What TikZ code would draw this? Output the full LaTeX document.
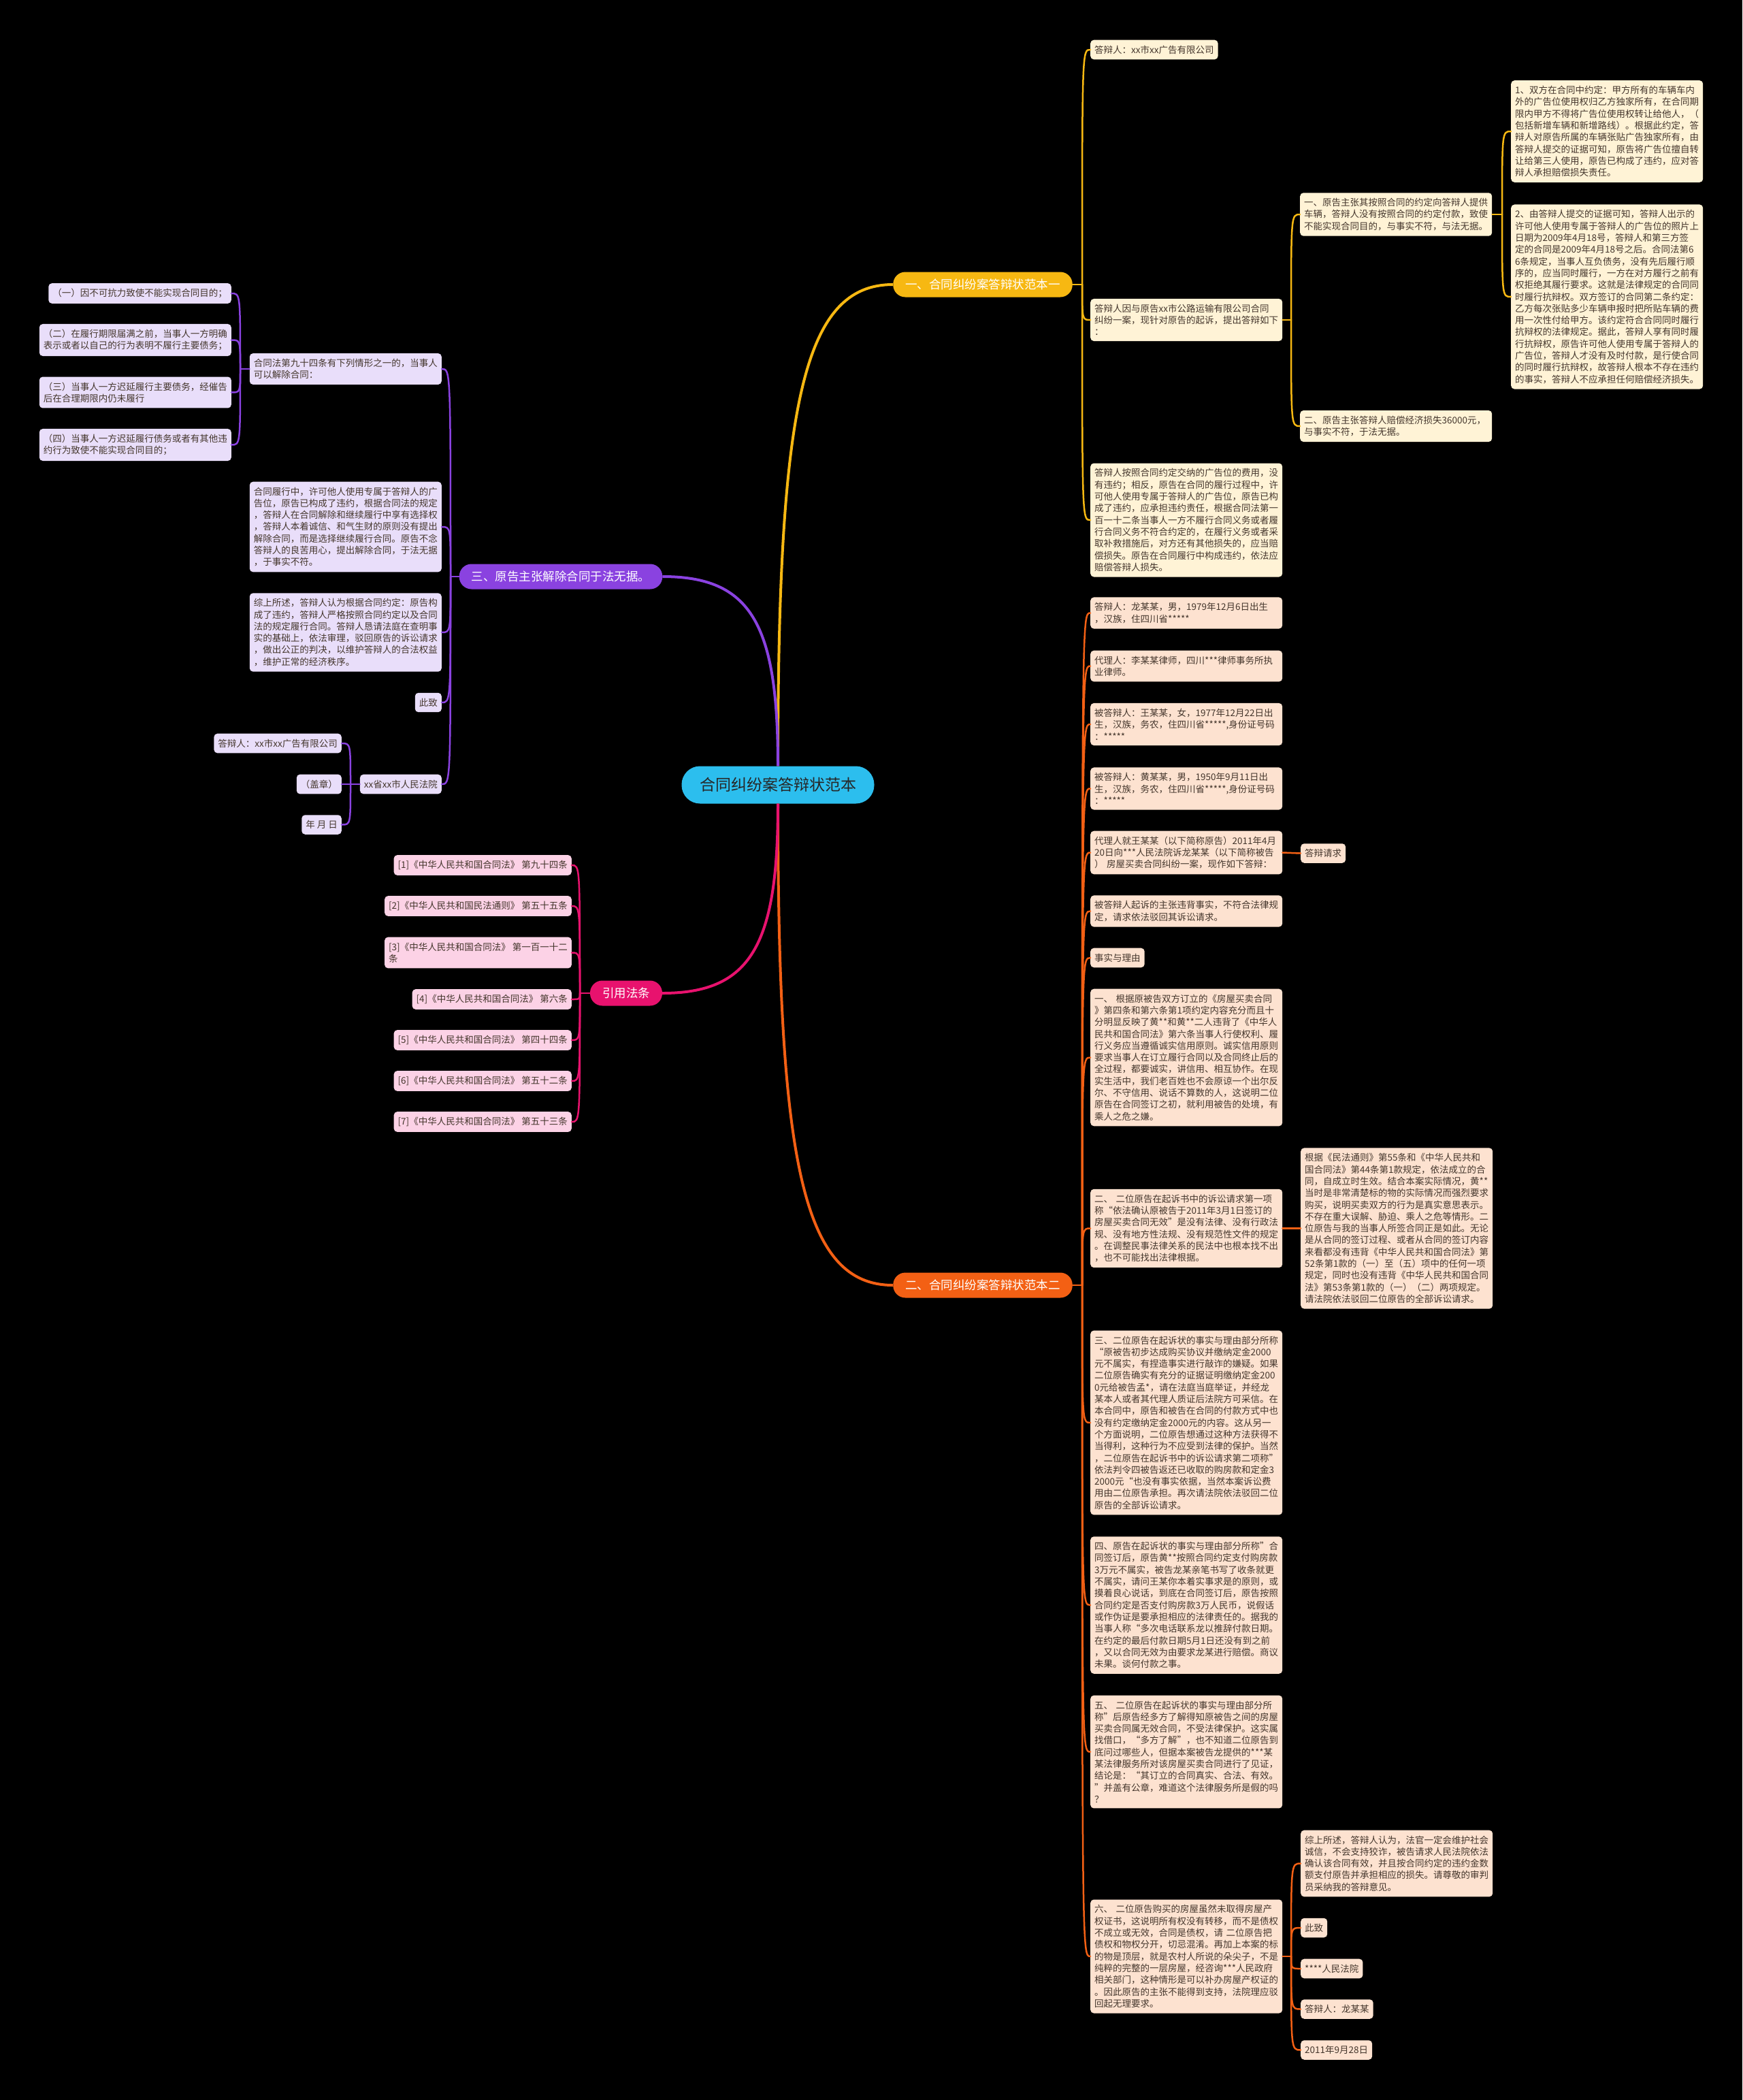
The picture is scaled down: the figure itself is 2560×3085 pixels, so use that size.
\documentclass[tikz,border=0pt]{standalone}
\usepackage{fontspec}
\setmainfont{Noto Sans CJK SC}

\definecolor{bgc}{RGB}{0,0,0}
\definecolor{ink}{RGB}{68,54,44}
\definecolor{rootc}{RGB}{44,190,238}
\definecolor{yel}{RGB}{247,184,18}
\definecolor{yelbox}{RGB}{255,243,214}
\definecolor{ora}{RGB}{243,96,20}
\definecolor{orabox}{RGB}{253,226,208}
\definecolor{pur}{RGB}{138,66,224}
\definecolor{purbox}{RGB}{233,222,250}
\definecolor{pnk}{RGB}{232,18,110}
\definecolor{pnkbox}{RGB}{252,210,230}

\newcommand*{\boxfont}{\fontsize{13.5}{17.3}\selectfont}

\begin{document}
\begin{tikzpicture}
[
	x=1pt,y=-1pt,
	root/.style={fill=rootc,rounded corners=27pt,minimum width=283pt,minimum height=55pt,font=\fontsize{23}{27}\selectfont,text=black!85},
	branch/.style={rounded corners=18pt,minimum height=37pt,inner xsep=18pt,font=\fontsize{17.5}{21}\selectfont,text=white},
	box/.style={rounded corners=5pt,inner xsep=6pt,inner ysep=8pt,font=\boxfont,text=ink,align=left},
	longbox/.style={text width=270pt},
	ybox/.style={box,fill=yelbox},
	obox/.style={box,fill=orabox},
	pbox/.style={box,fill=purbox},
	kbox/.style={box,fill=pnkbox},
	rootlink/.style={line width=4pt},
	link/.style={line width=2.5pt,line cap=round}
]

	% background
	\fill[bgc] (0,0) rectangle (2560,3085);

	% root and main branches
	\node[root] (root) at (1143,1153) {合同纠纷案答辩状范本};
	\node[branch,fill=yel] (b1) at (1444,418) {一、合同纠纷案答辩状范本一};
	\node[branch,fill=ora] (b2) at (1444,1888) {二、合同纠纷案答辩状范本二};
	\node[branch,fill=pur] (b3) at (824,847) {三、原告主张解除合同于法无据。};
	\node[branch,fill=pnk] (b4) at (920,1459) {引用法条};

	\draw[rootlink,yel] (root.north) .. controls +(0,-531) and +(-132,0) .. (b1.west);
	\draw[rootlink,ora] (root.south) .. controls +(0,530) and +(-132,0) .. (b2.west);
	\draw[rootlink,pur] (root.north) .. controls +(0,-209) and +(130,0) .. (b3.east);
	\draw[rootlink,pnk] (root.south) .. controls +(0,208) and +(130,0) .. (b4.east);

	% branch one
	\node[ybox,anchor=west] (c1) at (1602,73) {答辩人：xx市xx广告有限公司};
	\node[ybox,longbox,anchor=west] (c2) at (1602,470) {答辩人因与原告xx市公路运输有限公司合同\\纠纷一案，现针对原告的起诉，提出答辩如下\\：};
	\node[ybox,longbox,anchor=west] (c3) at (1602,764) {答辩人按照合同约定交纳的广告位的费用，没\\有违约；相反，原告在合同的履行过程中，许\\可他人使用专属于答辩人的广告位，原告已构\\成了违约，应承担违约责任，根据合同法第一\\百一十二条当事人一方不履行合同义务或者履\\行合同义务不符合约定的，在履行义务或者采\\取补救措施后，对方还有其他损失的，应当赔\\偿损失。原告在合同履行中构成违约，依法应\\赔偿答辩人损失。};
	\node[ybox,longbox,anchor=west] (c21) at (1910,315) {一、原告主张其按照合同的约定向答辩人提供\\车辆，答辩人没有按照合同的约定付款，致使\\不能实现合同目的，与事实不符，与法无据。};
	\node[ybox,longbox,anchor=west] (c22) at (1910,626) {二、原告主张答辩人赔偿经济损失36000元，\\与事实不符，于法无据。};
	\node[ybox,longbox,anchor=west] (c211) at (2220,193) {1、双方在合同中约定：甲方所有的车辆车内\\外的广告位使用权归乙方独家所有，在合同期\\限内甲方不得将广告位使用权转让给他人，（\\包括新增车辆和新增路线）。根据此约定，答\\辩人对原告所属的车辆张贴广告独家所有，由\\答辩人提交的证据可知，原告将广告位擅自转\\让给第三人使用，原告已构成了违约，应对答\\辩人承担赔偿损失责任。};
	\node[ybox,longbox,anchor=west] (c212) at (2220,436) {2、由答辩人提交的证据可知，答辩人出示的\\许可他人使用专属于答辩人的广告位的照片上\\日期为2009年4月18号，答辩人和第三方签\\定的合同是2009年4月18号之后。合同法第6\\6条规定，当事人互负债务，没有先后履行顺\\序的，应当同时履行，一方在对方履行之前有\\权拒绝其履行要求。这就是法律规定的合同同\\时履行抗辩权。双方签订的合同第二条约定：\\乙方每次张贴多少车辆申报时把所贴车辆的费\\用一次性付给甲方。该约定符合合同同时履行\\抗辩权的法律规定。据此，答辩人享有同时履\\行抗辩权，原告许可他人使用专属于答辩人的\\广告位，答辩人才没有及时付款，是行使合同\\的同时履行抗辩权，故答辩人根本不存在违约\\的事实，答辩人不应承担任何赔偿经济损失。};

	\coordinate (b1s) at (1590,418);
	\coordinate (c2s) at (1897,470);
	\coordinate (c21s) at (2207,315);
	\draw[link,yel] (b1.east) -- (b1s);
	\draw[link,yel] (c2.east) -- (c2s);
	\draw[link,yel] (c21.east) -- (c21s);
	\foreach \c in {c1,c2,c3}
		\draw[link,yel] (b1s) .. controls (b1s |- \c.west) .. (\c.west);
	\foreach \c in {c21,c22}
		\draw[link,yel] (c2s) .. controls (c2s |- \c.west) .. (\c.west);
	\foreach \c in {c211,c212}
		\draw[link,yel] (c21s) .. controls (c21s |- \c.west) .. (\c.west);

	% branch two
	\node[obox,longbox,anchor=west] (d1) at (1602,900.5) {答辩人：龙某某，男，1979年12月6日出生\\，汉族，住四川省*****};
	\node[obox,longbox,anchor=west] (d2) at (1602,978.5) {代理人：李某某律师，四川***律师事务所执\\业律师。};
	\node[obox,longbox,anchor=west] (d3) at (1602,1064) {被答辩人：王某某，女，1977年12月22日出\\生，汉族，务农，住四川省*****,身份证号码\\：*****};
	\node[obox,longbox,anchor=west] (d4) at (1602,1158.5) {被答辩人：黄某某，男，1950年9月11日出\\生，汉族，务农，住四川省*****,身份证号码\\：*****};
	\node[obox,longbox,anchor=west] (d5) at (1602,1252.5) {代理人就王某某（以下简称原告）2011年4月\\20日向***人民法院诉龙某某（以下简称被告\\） 房屋买卖合同纠纷一案，现作如下答辩：};
	\node[obox,anchor=west] (d5a) at (1911,1253.5) {答辩请求};
	\node[obox,longbox,anchor=west] (d6) at (1602,1338.5) {被答辩人起诉的主张违背事实，不符合法律规\\定，请求依法驳回其诉讼请求。};
	\node[obox,anchor=west] (d7) at (1602,1407) {事实与理由};
	\node[obox,longbox,anchor=west] (d8) at (1602,1553.5) {一、 根据原被告双方订立的《房屋买卖合同\\》第四条和第六条第1项约定内容充分而且十\\分明显反映了黄**和黄**二人违背了《中华人\\民共和国合同法》第六条当事人行使权利、履\\行义务应当遵循诚实信用原则。诚实信用原则\\要求当事人在订立履行合同以及合同终止后的\\全过程，都要诚实，讲信用、相互协作。在现\\实生活中，我们老百姓也不会原谅一个出尔反\\尔、不守信用、说话不算数的人，这说明二位\\原告在合同签订之初，就利用被告的处境，有\\乘人之危之嫌。};
	\node[obox,longbox,anchor=west] (d9) at (1602,1804.5) {二、 二位原告在起诉书中的诉讼请求第一项\\称“依法确认原被告于2011年3月1日签订的\\房屋买卖合同无效”是没有法律、没有行政法\\规、没有地方性法规、没有规范性文件的规定\\。在调整民事法律关系的民法中也根本找不出\\，也不可能找出法律根据。};
	\node[obox,longbox,anchor=west] (d9a) at (1911,1804.5) {根据《民法通则》第55条和《中华人民共和\\国合同法》第44条第1款规定，依法成立的合\\同，自成立时生效。结合本案实际情况，黄**\\当时是非常清楚标的物的实际情况而强烈要求\\购买，说明买卖双方的行为是真实意思表示。\\不存在重大误解、胁迫、乘人之危等情形。二\\位原告与我的当事人所签合同正是如此。无论\\是从合同的签订过程、或者从合同的签订内容\\来看都没有违背《中华人民共和国合同法》第\\52条第1款的（一）至（五）项中的任何一项\\规定，同时也没有违背《中华人民共和国合同\\法》第53条第1款的（一）（二）两项规定。\\请法院依法驳回二位原告的全部诉讼请求。};
	\node[obox,longbox,anchor=west] (d10) at (1602,2090) {三、二位原告在起诉状的事实与理由部分所称\\“原被告初步达成购买协议并缴纳定金2000\\元不属实，有捏造事实进行敲诈的嫌疑。如果\\二位原告确实有充分的证据证明缴纳定金200\\0元给被告孟*，请在法庭当庭举证，并经龙\\某本人或者其代理人质证后法院方可采信。在\\本合同中，原告和被告在合同的付款方式中也\\没有约定缴纳定金2000元的内容。这从另一\\个方面说明，二位原告想通过这种方法获得不\\当得利，这种行为不应受到法律的保护。当然\\，二位原告在起诉书中的诉讼请求第二项称”\\依法判令四被告返还已收取的购房款和定金3\\2000元“也没有事实依据，当然本案诉讼费\\用由二位原告承担。再次请法院依法驳回二位\\原告的全部诉讼请求。};
	\node[obox,longbox,anchor=west] (d11) at (1602,2358) {四、原告在起诉状的事实与理由部分所称”合\\同签订后，原告黄**按照合同约定支付购房款\\3万元不属实，被告龙某亲笔书写了收条就更\\不属实，请问王某你本着实事求是的原则，或\\摸着良心说话，到底在合同签订后，原告按照\\合同约定是否支付购房款3万人民币，说假话\\或作伪证是要承担相应的法律责任的。据我的\\当事人称“多次电话联系龙以推辞付款日期。\\在约定的最后付款日期5月1日还没有到之前\\，又以合同无效为由要求龙某进行赔偿。商议\\未果。谈何付款之事。};
	\node[obox,longbox,anchor=west] (d12) at (1602,2573.5) {五、 二位原告在起诉状的事实与理由部分所\\称”后原告经多方了解得知原被告之间的房屋\\买卖合同属无效合同，不受法律保护。这实属\\找借口，“多方了解”，也不知道二位原告到\\底问过哪些人，但据本案被告龙提供的***某\\某法律服务所对该房屋买卖合同进行了见证，\\结论是：“其订立的合同真实、合法、有效。\\”并盖有公章，难道这个法律服务所是假的吗\\？};
	\node[obox,longbox,anchor=west] (d13) at (1602,2874) {六、 二位原告购买的房屋虽然未取得房屋产\\权证书，这说明所有权没有转移，而不是债权\\不成立或无效，合同是债权，请 二位原告把\\债权和物权分开，切忌混淆。再加上本案的标\\的物是顶层，就是农村人所说的朵尖子，不是\\纯粹的完整的一层房屋，经咨询***人民政府\\相关部门，这种情形是可以补办房屋产权证的\\。因此原告的主张不能得到支持，法院理应驳\\回起无理要求。};
	\node[obox,longbox,anchor=west] (d13a) at (1911,2737.5) {综上所述，答辩人认为，法官一定会维护社会\\诚信，不会支持狡诈，被告请求人民法院依法\\确认该合同有效，并且按合同约定的违约金数\\额支付原告并承担相应的损失。请尊敬的审判\\员采纳我的答辩意见。};
	\node[obox,anchor=west] (d13b) at (1911,2832) {此致};
	\node[obox,anchor=west] (d13c) at (1911,2892) {****人民法院};
	\node[obox,anchor=west] (d13d) at (1911,2951.5) {答辩人：龙某某};
	\node[obox,anchor=west] (d13e) at (1911,3011.5) {2011年9月28日};

	\coordinate (b2s) at (1590,1888);
	\coordinate (d13s) at (1897,2874);
	\draw[link,ora] (b2.east) -- (b2s);
	\draw[link,ora] (d13.east) -- (d13s);
	\foreach \c in {d1,d2,d3,d4,d5,d6,d7,d8,d9,d10,d11,d12,d13}
		\draw[link,ora] (b2s) .. controls (b2s |- \c.west) .. (\c.west);
	\draw[link,ora] (d5.east) -- (d5a.west);
	\draw[link,ora] (d9.east) -- (d9a.west);
	\foreach \c in {d13a,d13b,d13c,d13d,d13e}
		\draw[link,ora] (d13s) .. controls (d13s |- \c.west) .. (\c.west);

	% branch three
	\node[pbox,longbox,anchor=east] (e1) at (649,542) {合同法第九十四条有下列情形之一的，当事人\\可以解除合同：};
	\node[pbox,anchor=east] (e11) at (340,431) {（一）因不可抗力致使不能实现合同目的；};
	\node[pbox,longbox,anchor=east] (e12) at (340,499.5) {（二）在履行期限届满之前，当事人一方明确\\表示或者以自己的行为表明不履行主要债务；};
	\node[pbox,longbox,anchor=east] (e13) at (340,576.5) {（三）当事人一方迟延履行主要债务，经催告\\后在合理期限内仍未履行};
	\node[pbox,longbox,anchor=east] (e14) at (340,653.5) {（四）当事人一方迟延履行债务或者有其他违\\约行为致使不能实现合同目的；};
	\node[pbox,longbox,anchor=east] (e2) at (649,774) {合同履行中，许可他人使用专属于答辩人的广\\告位，原告已构成了违约，根据合同法的规定\\，答辩人在合同解除和继续履行中享有选择权\\，答辩人本着诚信、和气生财的原则没有提出\\解除合同，而是选择继续履行合同。原告不念\\答辩人的良苦用心，提出解除合同，于法无据\\，于事实不符。};
	\node[pbox,longbox,anchor=east] (e3) at (649,929) {综上所述，答辩人认为根据合同约定：原告构\\成了违约，答辩人严格按照合同约定以及合同\\法的规定履行合同。答辩人恳请法庭在查明事\\实的基础上，依法审理，驳回原告的诉讼请求\\，做出公正的判决，以维护答辩人的合法权益\\，维护正常的经济秩序。};
	\node[pbox,anchor=east] (e4) at (649,1032) {此致};
	\node[pbox,anchor=east] (e5) at (649,1152) {xx省xx市人民法院};
	\node[pbox,anchor=east] (e51) at (502,1092) {答辩人：xx市xx广告有限公司};
	\node[pbox,anchor=east] (e52) at (502,1152) {（盖章）};
	\node[pbox,anchor=east] (e53) at (502,1211.5) {年 月 日};

	\coordinate (b3s) at (662,847);
	\coordinate (e1s) at (353,542);
	\coordinate (e5s) at (515,1152);
	\draw[link,pur] (b3.west) -- (b3s);
	\draw[link,pur] (e1.west) -- (e1s);
	\draw[link,pur] (e5.west) -- (e5s);
	\foreach \c in {e1,e2,e3,e4,e5}
		\draw[link,pur] (b3s) .. controls (b3s |- \c.east) .. (\c.east);
	\foreach \c in {e11,e12,e13,e14}
		\draw[link,pur] (e1s) .. controls (e1s |- \c.east) .. (\c.east);
	\foreach \c in {e51,e52,e53}
		\draw[link,pur] (e5s) .. controls (e5s |- \c.east) .. (\c.east);

	% branch four
	\node[kbox,anchor=east] (f1) at (840,1271) {[1]《中华人民共和国合同法》 第九十四条};
	\node[kbox,anchor=east] (f2) at (840,1331) {[2]《中华人民共和国民法通则》 第五十五条};
	\node[kbox,anchor=east] (f3) at (840,1399.5) {[3]《中华人民共和国合同法》 第一百一十二\\条};
	\node[kbox,anchor=east] (f4) at (840,1468) {[4]《中华人民共和国合同法》 第六条};
	\node[kbox,anchor=east] (f5) at (840,1528) {[5]《中华人民共和国合同法》 第四十四条};
	\node[kbox,anchor=east] (f6) at (840,1588) {[6]《中华人民共和国合同法》 第五十二条};
	\node[kbox,anchor=east] (f7) at (840,1648) {[7]《中华人民共和国合同法》 第五十三条};

	\coordinate (b4s) at (852,1459);
	\draw[link,pnk] (b4.west) -- (b4s);
	\foreach \c in {f1,f2,f3,f4,f5,f6,f7}
		\draw[link,pnk] (b4s) .. controls (b4s |- \c.east) .. (\c.east);

\end{tikzpicture}
\end{document}
